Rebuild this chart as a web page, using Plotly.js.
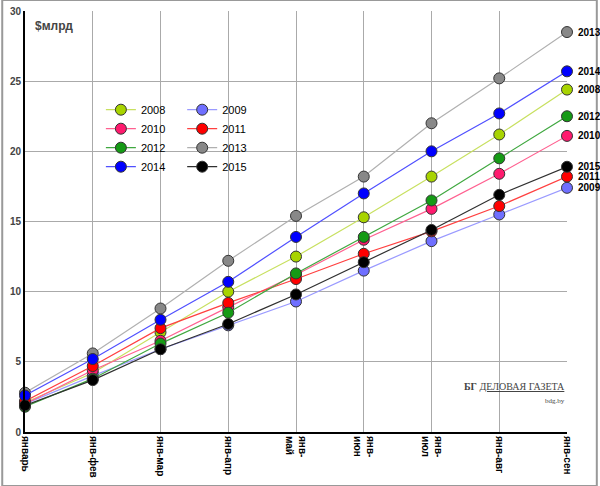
<!DOCTYPE html><html><head><meta charset="utf-8"><script src="https://cdn.plot.ly/plotly-3.0.1.min.js"></script></head><body style="margin:0"><div id="c" style="width:600px;height:486px"></div><script>
const months=['январь','янв-фев','янв-мар','янв-апр','янв-<br>май','янв-<br>июн','янв-<br>июл','янв-авг','янв-сен'];
const y2008=[2.1,4.2,7.1,10.0,12.5,15.3,18.2,21.2,24.4];
const y2009=[2.0,4.0,5.9,7.6,9.3,11.5,13.6,15.5,17.4];
const y2010=[2.0,4.4,6.5,8.9,11.2,13.7,15.9,18.4,21.1];
const y2011=[2.2,4.7,7.4,9.2,10.9,12.7,14.3,16.1,18.2];
const y2012=[1.8,3.8,6.3,8.5,11.3,13.9,16.5,19.5,22.5];
const y2013=[2.8,5.6,8.8,12.2,15.4,18.2,22.0,25.2,28.5];
const y2014=[2.6,5.2,8.0,10.7,13.9,17.0,20.0,22.7,25.7];
const y2015=[1.9,3.7,5.9,7.7,9.8,12.1,14.4,16.9,18.9];
const S=[['2008',y2008,'#a8d400','#c8e060','legend'],['2009',y2009,'#6f6fff','#9a9aff','legend2'],
['2010',y2010,'#ff1a6e','#ff6090','legend'],['2011',y2011,'#ff0000','#ff4040','legend2'],
['2012',y2012,'#159a15','#40a840','legend'],['2013',y2013,'#888888','#b0b0b0','legend2'],
['2014',y2014,'#0000ff','#5050ff','legend'],['2015',y2015,'#000000','#303030','legend2']];
const traces=S.map(s=>({x:months,y:s[1],name:s[0],type:'scatter',mode:'lines+markers',legend:s[4],cliponaxis:false,
line:{color:s[3],width:1.2},marker:{color:s[2],size:11,line:{color:'#333',width:1}}}));
const ann=S.map(s=>({x:months[8],y:s[1][8],text:'<b>'+s[0]+'</b>',showarrow:false,xanchor:'left',xshift:9,font:{size:10,color:'#000',family:'Liberation Sans'}}));
ann.push({xref:'paper',yref:'paper',x:0.015,y:0.985,xanchor:'left',yanchor:'top',text:'<b>$млрд</b>',showarrow:false,font:{size:12,family:'Liberation Sans'}});
ann.push({xref:'paper',yref:'paper',x:1.0,y:0.06,xanchor:'right',text:'<b>БГ</b> <u>ДЕЛОВАЯ ГАЗЕТА</u><br><span style="font-size:7px">bdg.by</span>',showarrow:false,font:{size:10,family:'Liberation Serif'},align:'right'});
const lg={bgcolor:'rgba(0,0,0,0)',font:{size:11,family:'Liberation Sans',color:'#000'},tracegroupgap:0,yanchor:'top'};
Plotly.newPlot('c',traces,{width:600,height:486,margin:{l:25,r:33,t:11,b:54},paper_bgcolor:'#fff',plot_bgcolor:'#fff',
xaxis:{range:[0,8],showgrid:true,gridcolor:'#aaa',tickangle:90,tickfont:{size:10,family:'Liberation Sans',color:'#000',weight:'bold'},showline:true,linecolor:'#000',linewidth:2,ticks:'',zeroline:false},
yaxis:{range:[0,30],dtick:5,showgrid:true,gridcolor:'#aaa',tickfont:{size:10,family:'Liberation Sans',weight:'bold'},showline:true,linecolor:'#000',linewidth:2,zeroline:false},
legend:Object.assign({x:0.14,y:0.8},lg),legend2:Object.assign({x:0.29,y:0.8},lg),
annotations:ann,
shapes:[{type:'rect',xref:'paper',yref:'paper',x0:-0.042,x1:1.055,y0:-0.128,y1:1.026,line:{color:'#999',width:2}}]
},{displayModeBar:false});
</script></body></html>
